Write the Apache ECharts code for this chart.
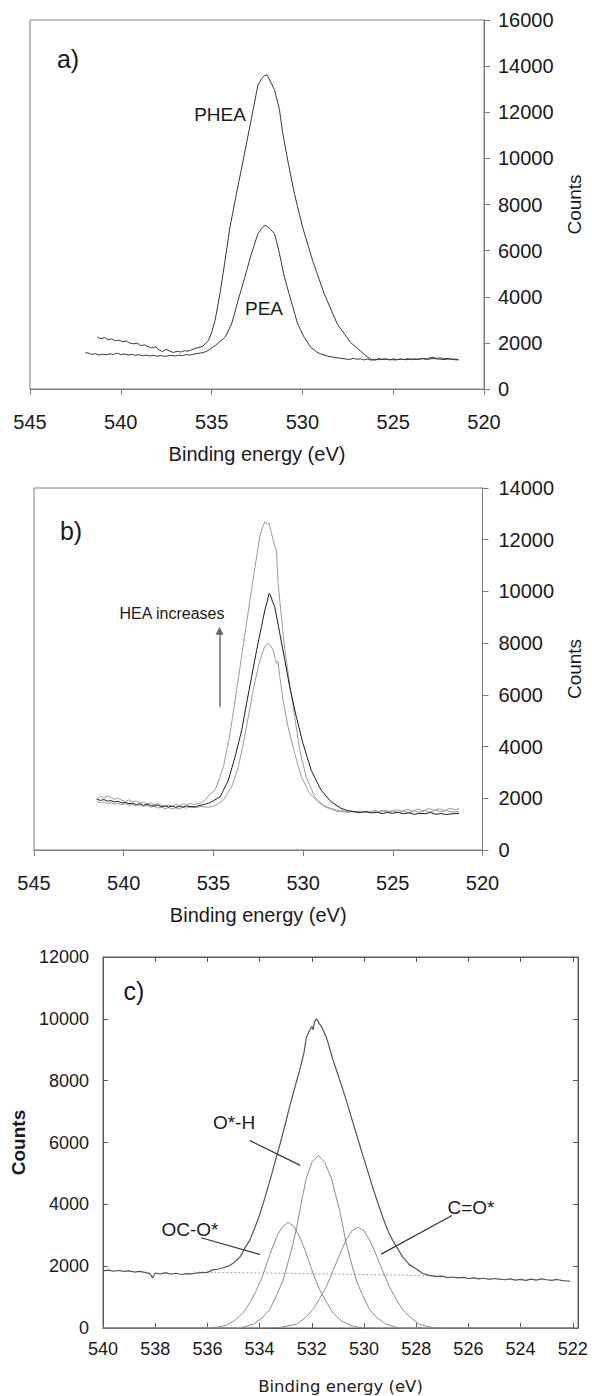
<!DOCTYPE html>
<html>
<head>
<meta charset="utf-8">
<style>
  html, body { margin: 0; padding: 0; background: #fff; }
  #chart { width: 592px; height: 1396px; }
</style>
</head>
<body>
<div id="chart"></div>
<script src="https://cdn.jsdelivr.net/npm/echarts@6/dist/echarts.min.js"></script>
<script>
// ── Panel a: PHEA / PEA O1s spectra [binding energy, counts] ──
var pheaA = [
  [541.3, 2250], [541.1, 2180], [540.9, 2230], [540.7, 2140], [540.5, 2170], [540.3, 2090], [540.1, 2120],
  [539.9, 2050], [539.7, 2080], [539.5, 1990], [539.3, 1960], [539.1, 1990], [538.9, 1880], [538.7, 1920],
  [538.5, 1840], [538.3, 1780], [538.1, 1830], [537.9, 1700], [537.7, 1620], [537.5, 1720], [537.3, 1640],
  [537.1, 1580], [536.9, 1640], [536.7, 1600], [536.5, 1660], [536.3, 1640], [536.1, 1700], [535.9, 1760],
  [535.7, 1800], [535.5, 1850], [535.3, 2000], [535.18, 2100], [535.0, 2450], [534.81, 2970], [534.54, 4130],
  [534.26, 5570], [533.99, 7020], [533.63, 8470], [533.26, 9920], [532.9, 11360], [532.72, 12080],
  [532.45, 13180], [532.2, 13500], [532.1, 13580], [531.95, 13620], [531.8, 13400], [531.53, 12960],
  [531.26, 12090], [531.08, 11080], [530.81, 9920], [530.44, 8470], [529.99, 7020], [529.44, 5570],
  [528.8, 4130], [528.08, 2820], [527.35, 2020], [526.62, 1520], [526.26, 1300], [526.0, 1250],
  [525.8, 1320], [525.6, 1280], [525.4, 1300], [525.2, 1260], [525.0, 1310], [524.8, 1270], [524.6, 1300],
  [524.4, 1280], [524.2, 1320], [524.0, 1270], [523.8, 1300], [523.6, 1290], [523.4, 1330], [523.2, 1300],
  [523.0, 1340], [522.8, 1380], [522.6, 1320], [522.4, 1350], [522.2, 1310], [522.0, 1330], [521.8, 1290],
  [521.6, 1300], [521.4, 1270]
];
var peaA = [
  [541.95, 1580], [541.8, 1560], [541.6, 1500], [541.4, 1530], [541.2, 1470], [541.0, 1510], [540.8, 1480],
  [540.6, 1530], [540.4, 1500], [540.2, 1560], [540.0, 1490], [539.8, 1520], [539.6, 1470], [539.4, 1500],
  [539.2, 1460], [539.0, 1490], [538.8, 1440], [538.6, 1470], [538.4, 1430], [538.2, 1460], [538.0, 1420],
  [537.8, 1450], [537.6, 1410], [537.4, 1440], [537.2, 1460], [537.0, 1430], [536.8, 1470], [536.6, 1450],
  [536.4, 1490], [536.2, 1470], [536.0, 1510], [535.8, 1540], [535.6, 1560], [535.4, 1600], [535.27, 1630],
  [535.05, 1750], [534.81, 1880], [534.55, 2050], [534.26, 2240], [533.9, 2820], [533.54, 3840],
  [533.17, 4850], [532.81, 5860], [532.45, 6730], [532.2, 7000], [532.05, 7100], [531.95, 7060],
  [531.8, 6950], [531.53, 6730], [531.26, 5860], [530.99, 4850], [530.63, 3840], [530.26, 2820],
  [529.9, 2240], [529.54, 1810], [529.2, 1600], [528.99, 1520], [528.6, 1420], [528.3, 1380], [527.9, 1330],
  [527.6, 1300], [527.4, 1280], [527.2, 1330], [527.0, 1290], [526.8, 1310], [526.6, 1260], [526.4, 1300],
  [526.2, 1250], [526.0, 1290], [525.8, 1270], [525.5, 1300], [525.2, 1280], [524.9, 1260], [524.6, 1290],
  [524.3, 1270], [524.0, 1300], [523.7, 1280], [523.4, 1310], [523.1, 1290], [522.8, 1320], [522.5, 1300],
  [522.2, 1280], [521.9, 1300], [521.6, 1270], [521.4, 1260]
];

// ── Panel b: three copolymers, HEA content increasing ──
var bHigh = [
  [541.5, 1980], [541.3, 2080], [541.1, 2010], [540.9, 2100], [540.7, 2030], [540.5, 1960], [540.3, 2010],
  [540.1, 1920], [539.9, 1880], [539.7, 1940], [539.5, 1860], [539.3, 1900], [539.1, 1820], [538.9, 1850],
  [538.7, 1780], [538.5, 1820], [538.3, 1750], [538.1, 1800], [537.9, 1730], [537.7, 1680], [537.5, 1740],
  [537.3, 1690], [537.1, 1760], [536.9, 1720], [536.7, 1790], [536.5, 1740], [536.3, 1800], [536.1, 1760],
  [535.9, 1790], [535.7, 1820], [535.45, 1930], [535.2, 2150], [534.9, 2320], [534.65, 2800], [534.44, 3220],
  [534.07, 4510], [533.79, 5800], [533.51, 7090], [533.24, 8380], [532.96, 9670], [532.68, 10950],
  [532.41, 12120], [532.25, 12500], [532.13, 12700], [532.0, 12600], [531.9, 12650], [531.76, 12250],
  [531.6, 11800], [531.49, 11600], [531.39, 10310], [531.21, 9020], [531.02, 7730], [530.75, 6450],
  [530.47, 5160], [530.19, 3870], [529.83, 2840], [529.36, 2060], [528.81, 1670], [528.3, 1550],
  [528.08, 1480], [527.8, 1520], [527.5, 1450], [527.2, 1500], [526.9, 1430], [526.6, 1490], [526.3, 1450],
  [526.0, 1530], [525.7, 1470], [525.4, 1540], [525.1, 1480], [524.8, 1560], [524.5, 1500], [524.2, 1570],
  [523.9, 1510], [523.6, 1580], [523.3, 1520], [523.0, 1600], [522.7, 1540], [522.4, 1590], [522.1, 1530],
  [521.8, 1610], [521.5, 1560], [521.3, 1600]
];
var bMid = [
  [541.5, 1960], [541.3, 1920], [541.1, 1950], [540.9, 1890], [540.7, 1910], [540.5, 1860], [540.3, 1880],
  [540.1, 1820], [539.9, 1840], [539.7, 1790], [539.5, 1810], [539.3, 1760], [539.1, 1790], [538.9, 1730],
  [538.7, 1770], [538.5, 1720], [538.3, 1700], [538.1, 1740], [537.9, 1670], [537.7, 1710], [537.5, 1660],
  [537.3, 1700], [537.1, 1650], [536.9, 1690], [536.7, 1660], [536.5, 1700], [536.3, 1680], [536.0, 1670],
  [535.8, 1720], [535.5, 1760], [535.27, 1810], [535.0, 1900], [534.62, 2060], [534.16, 2710],
  [533.79, 3610], [533.42, 4640], [533.15, 5670], [532.87, 6700], [532.59, 7730], [532.32, 8640],
  [532.13, 9280], [532.0, 9600], [531.95, 9750], [531.89, 9930], [531.8, 9820], [531.7, 9600],
  [531.58, 9410], [531.3, 8380], [531.02, 7350], [530.75, 6320], [530.38, 5160], [530.01, 4130],
  [529.55, 3090], [529.0, 2320], [528.45, 1870], [527.89, 1610], [527.5, 1520], [527.15, 1480],
  [526.8, 1450], [526.5, 1490], [526.2, 1430], [525.9, 1460], [525.6, 1410], [525.3, 1450], [525.0, 1420],
  [524.7, 1460], [524.4, 1400], [524.1, 1440], [523.8, 1380], [523.5, 1420], [523.2, 1400], [522.9, 1450],
  [522.6, 1380], [522.3, 1410], [522.0, 1370], [521.7, 1400], [521.3, 1420]
];
var bLow = [
  [541.5, 1880], [541.3, 1820], [541.1, 1860], [540.9, 1790], [540.7, 1830], [540.5, 1770], [540.3, 1810],
  [540.1, 1750], [539.9, 1790], [539.7, 1730], [539.5, 1760], [539.3, 1700], [539.1, 1740], [538.9, 1680],
  [538.7, 1720], [538.5, 1650], [538.3, 1690], [538.1, 1620], [537.9, 1660], [537.7, 1600], [537.5, 1640],
  [537.3, 1590], [537.1, 1630], [536.9, 1600], [536.7, 1650], [536.5, 1620], [536.3, 1660], [536.0, 1640],
  [535.7, 1680], [535.4, 1660], [535.08, 1670], [534.8, 1760], [534.44, 1930], [533.98, 2450],
  [533.61, 3220], [533.33, 4130], [533.05, 5160], [532.78, 6190], [532.5, 7090], [532.22, 7730],
  [532.05, 7950], [531.95, 7990], [531.8, 7900], [531.67, 7730], [531.55, 7400], [531.49, 7220],
  [531.4, 7300], [531.3, 6700], [531.12, 5800], [530.84, 4770], [530.47, 3740], [530.1, 2840],
  [529.64, 2190], [529.09, 1810], [528.45, 1610], [528.0, 1520], [527.7, 1470], [527.4, 1520], [527.1, 1460],
  [526.8, 1510], [526.5, 1440], [526.2, 1500], [525.9, 1450], [525.6, 1530], [525.3, 1470], [525.0, 1520],
  [524.7, 1450], [524.4, 1500], [524.1, 1440], [523.8, 1510], [523.5, 1460], [523.2, 1520], [522.9, 1470],
  [522.6, 1530], [522.3, 1480], [522.0, 1520], [521.7, 1470], [521.3, 1500]
];

// ── Panel c: peak fit of the O1s envelope ──
var cTotal = [
  [540.0, 1850], [539.8, 1870], [539.6, 1840], [539.4, 1860], [539.2, 1830], [539.0, 1850], [538.8, 1810],
  [538.6, 1830], [538.4, 1800], [538.2, 1760], [538.1, 1620], [538.0, 1780], [537.8, 1750], [537.6, 1790],
  [537.4, 1740], [537.2, 1770], [537.0, 1730], [536.8, 1760], [536.6, 1750], [536.4, 1780], [536.2, 1790],
  [536.0, 1800], [535.8, 1880], [535.6, 1900], [535.4, 1950], [535.2, 2000], [535.0, 2100], [534.75, 2300],
  [534.55, 2600], [534.37, 2850], [534.2, 3200], [533.99, 3680], [533.8, 4200], [533.61, 4750],
  [533.42, 5330], [533.23, 5910], [533.03, 6550], [532.84, 7190], [532.65, 7780], [532.46, 8360],
  [532.3, 8900], [532.21, 9400], [532.1, 9600], [532.0, 9750], [531.95, 9650], [531.9, 9900],
  [531.82, 10000], [531.75, 9900], [531.6, 9700], [531.44, 9400], [531.3, 9000], [531.19, 8680],
  [531.0, 8200], [530.81, 7720], [530.62, 7200], [530.43, 6660], [530.24, 6130], [530.05, 5600],
  [529.85, 5060], [529.66, 4530], [529.47, 4050], [529.28, 3580], [529.1, 3180], [528.9, 2830],
  [528.7, 2550], [528.52, 2300], [528.26, 2050], [528.01, 1920], [527.76, 1770], [527.5, 1700],
  [527.2, 1660], [527.0, 1680], [526.8, 1630], [526.6, 1650], [526.4, 1620], [526.2, 1640], [526.0, 1600],
  [525.8, 1620], [525.6, 1590], [525.4, 1610], [525.2, 1570], [525.0, 1600], [524.8, 1580], [524.6, 1560],
  [524.4, 1590], [524.2, 1550], [524.0, 1570], [523.8, 1540], [523.6, 1580], [523.4, 1550], [523.2, 1590],
  [523.0, 1560], [522.8, 1540], [522.6, 1570], [522.4, 1530], [522.2, 1520], [522.1, 1510]
];
var cBase = [[536.5, 1810], [531.5, 1750], [527.0, 1685]];
var cOCO = [
  [540.0, 0], [536.0, 0], [535.6, 30], [535.26, 90], [534.95, 250], [534.63, 490], [534.35, 850],
  [534.11, 1240], [533.9, 1650], [533.73, 2080], [533.55, 2500], [533.35, 2940], [533.15, 3250],
  [532.91, 3420], [532.7, 3300], [532.46, 2940], [532.25, 2500], [532.08, 2080], [531.9, 1650],
  [531.7, 1240], [531.45, 850], [531.19, 490], [530.9, 250], [530.55, 90], [530.2, 20], [529.9, 0], [522.0, 0]
];
var cOH = [
  [540.0, 0], [534.75, 0], [534.24, 120], [533.9, 330], [533.61, 600], [533.35, 1050], [533.1, 1550],
  [532.9, 2150], [532.72, 2720], [532.58, 3250], [532.46, 3790], [532.33, 4350], [532.21, 4850],
  [532.0, 5350], [531.75, 5580], [531.5, 5350], [531.25, 4850], [531.1, 4350], [530.93, 3790],
  [530.8, 3250], [530.68, 2720], [530.5, 2150], [530.3, 1550], [530.05, 1050], [529.79, 600],
  [529.5, 330], [529.15, 120], [528.65, 0], [522.0, 0]
];
var cCO = [
  [540.0, 0], [534.0, 0], [533.2, 20], [532.59, 120], [532.25, 330], [531.95, 600], [531.7, 950],
  [531.44, 1340], [531.25, 1720], [531.06, 2110], [530.87, 2500], [530.68, 2850], [530.45, 3150],
  [530.24, 3260], [530.0, 3150], [529.79, 2850], [529.6, 2500], [529.41, 2110], [529.22, 1720],
  [529.03, 1340], [528.78, 950], [528.52, 600], [528.2, 330], [527.88, 120], [527.4, 20], [527.0, 0], [522.0, 0]
];
var cTicks = [522, 524, 526, 528, 530, 532, 534, 536, 538, 540];

var font = '"Liberation Sans", Arial, sans-serif';
var ink = '#1a1a1a';
var frame = '#7d7d7d';
var frameC = '#5a5a5a';
var plain = function (v) { return String(v); };

function line(data, x, y, color, width, extra) {
  var s = {
    type: 'line', data: data, xAxisIndex: x, yAxisIndex: y,
    showSymbol: false, symbol: 'none', silent: true,
    lineStyle: { color: color, width: width }
  };
  for (var k in extra || {}) s[k] = extra[k];
  return s;
}

var chart = echarts.init(document.getElementById('chart'), null, { renderer: 'svg' });
chart.setOption({
  animation: false,
  backgroundColor: '#fff',
  grid: [
    { left: 30, right: 104, top: 20, height: 369, show: true, borderColor: frame, borderWidth: 1 },
    { left: 34, right: 106, top: 488, height: 362, show: true, borderColor: frame, borderWidth: 1 },
    { left: 103, right: 14, top: 957, height: 375, show: true, borderColor: frameC, borderWidth: 1 }
  ],
  xAxis: [
    {
      gridIndex: 0, type: 'value', min: 520, max: 545, interval: 5, inverse: true,
      axisLine: { onZero: false, lineStyle: { color: frame } },
      axisTick: { length: 6, lineStyle: { color: frame } },
      axisLabel: { color: ink, fontSize: 20, margin: 23, fontFamily: font, formatter: plain },
      splitLine: { show: false },
      name: 'Binding energy (eV)', nameLocation: 'middle', nameGap: 55,
      nameTextStyle: { color: ink, fontSize: 20, fontFamily: font }
    },
    {
      gridIndex: 1, type: 'value', min: 520, max: 545, interval: 5, inverse: true,
      axisLine: { onZero: false, lineStyle: { color: frame } },
      axisTick: { length: 6, lineStyle: { color: frame } },
      axisLabel: { color: ink, fontSize: 20, margin: 23, fontFamily: font, formatter: plain },
      splitLine: { show: false },
      name: 'Binding energy (eV)', nameLocation: 'middle', nameGap: 55,
      nameTextStyle: { color: ink, fontSize: 20, fontFamily: font }
    },
    {
      gridIndex: 2, type: 'value', min: 521.8, max: 540, inverse: true,
      axisLine: { onZero: false, lineStyle: { color: frameC } },
      axisTick: { inside: true, length: 5, customValues: cTicks, lineStyle: { color: frameC } },
      axisLabel: { color: ink, fontSize: 18, margin: 12, fontFamily: font, customValues: cTicks, formatter: plain },
      splitLine: { show: false },
      name: 'Binding energy (eV)', nameLocation: 'middle', nameGap: 50,
      nameTextStyle: { color: '#222', fontSize: 16.5, fontFamily: '"DejaVu Sans", Verdana, sans-serif' }
    },
    {
      gridIndex: 2, type: 'value', position: 'top', min: 521.8, max: 540, inverse: true,
      axisLine: { onZero: false, lineStyle: { color: frameC } },
      axisTick: { inside: true, length: 5, customValues: cTicks, lineStyle: { color: frameC } },
      axisLabel: { show: false },
      splitLine: { show: false }
    }
  ],
  yAxis: [
    {
      gridIndex: 0, type: 'value', position: 'right', min: 0, max: 16000, interval: 2000,
      axisLine: { show: true, lineStyle: { color: frame } },
      axisTick: { show: true, length: 6, lineStyle: { color: frame } },
      axisLabel: { color: ink, fontSize: 20, margin: 14, fontFamily: font, formatter: plain },
      splitLine: { show: false },
      name: 'Counts', nameLocation: 'middle', nameGap: 81, nameRotate: 90,
      nameTextStyle: { color: ink, fontSize: 19, fontFamily: font }
    },
    {
      gridIndex: 1, type: 'value', position: 'right', min: 0, max: 14000, interval: 2000,
      axisLine: { show: true, lineStyle: { color: frame } },
      axisTick: { show: true, length: 6, lineStyle: { color: frame } },
      axisLabel: { color: ink, fontSize: 20, margin: 16, fontFamily: font, formatter: plain },
      splitLine: { show: false },
      name: 'Counts', nameLocation: 'middle', nameGap: 81, nameRotate: 90,
      nameTextStyle: { color: ink, fontSize: 19, fontFamily: font }
    },
    {
      gridIndex: 2, type: 'value', position: 'left', min: 0, max: 12000, interval: 2000,
      axisLine: { show: true, lineStyle: { color: frameC } },
      axisTick: { show: true, inside: true, length: 5, lineStyle: { color: frameC } },
      axisLabel: { color: ink, fontSize: 18, margin: 14, fontFamily: font, formatter: plain },
      splitLine: { show: false },
      name: 'Counts', nameLocation: 'middle', nameGap: 74, nameRotate: 90,
      nameTextStyle: { color: ink, fontSize: 19, fontWeight: 'bold', fontFamily: font }
    },
    {
      gridIndex: 2, type: 'value', position: 'right', min: 0, max: 12000, interval: 2000,
      axisLine: { show: true, lineStyle: { color: frameC } },
      axisTick: { show: true, inside: true, length: 5, lineStyle: { color: frameC } },
      axisLabel: { show: false },
      splitLine: { show: false }
    }
  ],
  series: [
    line(pheaA, 0, 0, '#3a3a3a', 1),
    line(peaA, 0, 0, '#3a3a3a', 1),
    line(bLow, 1, 1, '#9c9c9c', 1),
    line(bHigh, 1, 1, '#9c9c9c', 1),
    line(bMid, 1, 1, '#1e1e1e', 1, {
      markLine: {
        silent: true, symbol: ['none', 'triangle'], symbolSize: 8,
        label: { show: false },
        lineStyle: { color: '#6a6a6a', width: 1.5, type: 'solid' },
        data: [[{ coord: [534.66, 5540] }, { coord: [534.66, 8480] }]]
      }
    }),
    line(cOCO, 2, 2, '#8c8c8c', 1),
    line(cOH, 2, 2, '#8c8c8c', 1),
    line(cCO, 2, 2, '#8c8c8c', 1),
    line(cBase, 2, 2, '#8a8a8a', 0.8, { lineStyle: { color: '#8a8a8a', width: 0.8, type: [2, 2] } }),
    line(cTotal, 2, 2, '#555', 1.2, {
      markLine: {
        silent: true, symbol: 'none', label: { show: false },
        lineStyle: { color: '#333', width: 1.2, type: 'solid' },
        data: [
          [{ coord: [534.37, 6060] }, { coord: [532.44, 5260] }],
          [{ coord: [536.24, 2920] }, { coord: [533.99, 2380] }],
          [{ coord: [526.63, 3640] }, { coord: [529.34, 2390] }]
        ]
      }
    })
  ],
  graphic: [
    { type: 'text', x: 68, y: 59, style: { text: 'a)', fill: ink, font: '25px ' + font, align: 'center', verticalAlign: 'middle' } },
    { type: 'text', x: 220, y: 114, style: { text: 'PHEA', fill: ink, font: '19px ' + font, align: 'center', verticalAlign: 'middle' } },
    { type: 'text', x: 264, y: 308, style: { text: 'PEA', fill: ink, font: '19px ' + font, align: 'center', verticalAlign: 'middle' } },
    { type: 'text', x: 71, y: 531, style: { text: 'b)', fill: ink, font: '25px ' + font, align: 'center', verticalAlign: 'middle' } },
    { type: 'text', x: 172, y: 613, style: { text: 'HEA increases', fill: ink, font: '16px ' + font, align: 'center', verticalAlign: 'middle' } },
    { type: 'text', x: 134, y: 991, style: { text: 'c)', fill: ink, font: '25px ' + font, align: 'center', verticalAlign: 'middle' } },
    { type: 'text', x: 234, y: 1122, style: { text: 'O*-H', fill: ink, font: '19px ' + font, align: 'center', verticalAlign: 'middle' } },
    { type: 'text', x: 190, y: 1229, style: { text: 'OC-O*', fill: ink, font: '19px ' + font, align: 'center', verticalAlign: 'middle' } },
    { type: 'text', x: 471, y: 1207, style: { text: 'C=O*', fill: ink, font: '19px ' + font, align: 'center', verticalAlign: 'middle' } }
  ]
});
</script>
</body>
</html>
